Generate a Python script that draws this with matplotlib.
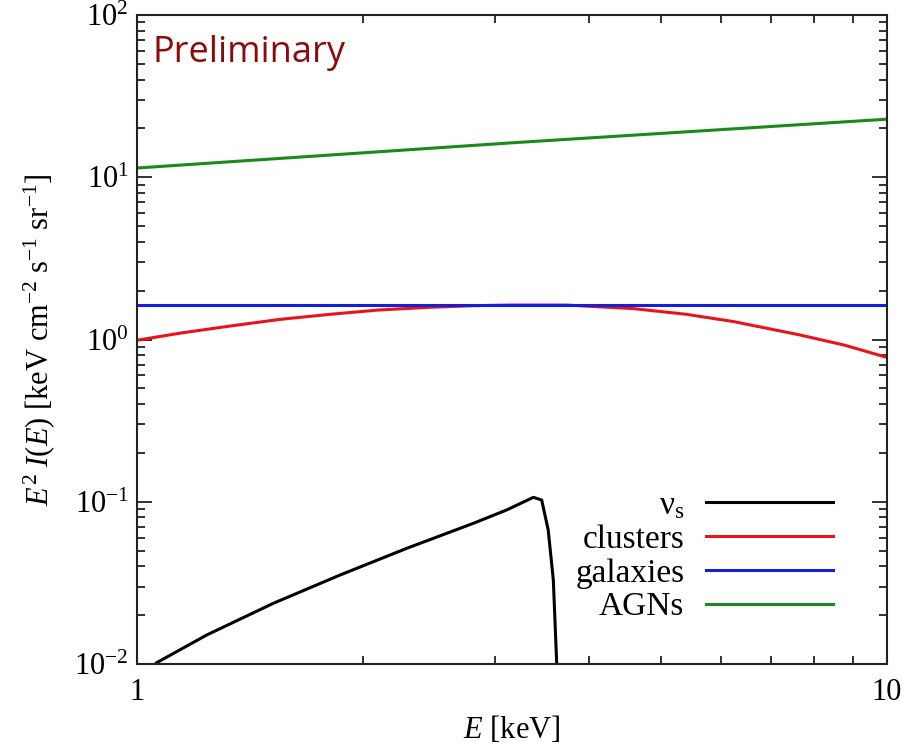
import matplotlib
matplotlib.use("Agg")
import matplotlib.pyplot as plt
from matplotlib.ticker import LogLocator, NullFormatter, LogFormatterSciNotation

# ---- data ----
E_nus = [1.05, 1.0624, 1.2386, 1.5197, 1.8653, 2.2884, 2.8079, 3.111, 3.377, 3.464,
         3.534, 3.590, 3.627, 3.64]
I_nus = [0.0097, 0.01019, 0.01509, 0.02366, 0.03535, 0.0516, 0.0736, 0.0890, 0.1065, 0.1025,
         0.067, 0.033, 0.0102, 0.008]

E_clu = [1.0, 1.15, 1.33, 1.55, 1.81, 2.1, 2.46, 2.8, 3.14, 3.74, 4.59, 5.4, 6.24, 7.66, 8.8, 10.0]
I_clu = [0.99, 1.10, 1.21, 1.33, 1.43, 1.52, 1.58, 1.615, 1.63, 1.63, 1.55, 1.43, 1.29, 1.066, 0.92, 0.775]

E_gal = [1.0, 10.0]
I_gal = [1.64, 1.64]

E_agn = [1.0, 3.16, 10.0]
I_agn = [11.4, 16.3, 22.8]

labels = ["ν$_{\\rm s}$", "clusters", "galaxies", "AGNs"]
colors = ["black", "#e8141a", "#1420d8", "#1a8a1a"]

x_ticks = [1, 10]
x_ticklabels = ["1", "10"]

# ---- style ----
plt.rcParams["font.family"] = ["Liberation Serif", "DejaVu Serif"]
plt.rcParams["mathtext.fontset"] = "custom"
plt.rcParams["mathtext.rm"] = "Liberation Serif"
plt.rcParams["mathtext.it"] = "Liberation Serif:italic"
plt.rcParams["mathtext.bf"] = "Liberation Serif:bold"

fig = plt.figure(figsize=(9.17, 7.49), dpi=100)
ax = fig.add_axes([137/917, 1-664/749, 750/917, 649/749])

series = [(E_nus, I_nus), (E_clu, I_clu), (E_gal, I_gal), (E_agn, I_agn)]
for (xs, ys), lab, col in zip(series, labels, colors):
    ax.plot(xs, ys, color=col, lw=2.2, label=lab, solid_joinstyle="round")

ax.set_xscale("log")
ax.set_yscale("log")
ax.set_xlim(1, 10)
ax.set_ylim(0.01, 100)

ax.set_xticks(x_ticks)
ax.set_xticklabels(x_ticklabels)
ax.xaxis.set_minor_locator(LogLocator(base=10, subs=range(2, 10)))
ax.xaxis.set_minor_formatter(NullFormatter())
ax.yaxis.set_major_locator(LogLocator(base=10, numticks=10))
ax.yaxis.set_major_formatter(LogFormatterSciNotation())
ax.yaxis.set_minor_locator(LogLocator(base=10, subs=range(2, 10), numticks=20))
ax.yaxis.set_minor_formatter(NullFormatter())

ax.tick_params(which="both", direction="in", top=True, right=True, width=1.3, color="#222222")
ax.tick_params(which="major", length=11, labelsize=22)
ax.tick_params(axis="y", which="major", pad=6)
ax.tick_params(axis="x", which="major", pad=10)
ax.tick_params(which="minor", length=6)
for s in ax.spines.values():
    s.set_linewidth(1.5)
    s.set_color("#222222")

ax.set_xlabel(r"$E$ [keV]", fontsize=22, labelpad=5)
ax.set_ylabel(r"$E^2\ I(E)$ [keV cm$^{-2}$ s$^{-1}$ sr$^{-1}$]", fontsize=22)
ax.yaxis.set_label_coords(-0.106, 0.5)

leg = ax.legend(loc="lower right", bbox_to_anchor=(0.928, 0.064), frameon=False,
                markerfirst=False, fontsize=24, handlelength=3.8, handletextpad=0.66,
                labelspacing=0.1, borderpad=0, borderaxespad=0)

ax.text(0.021, 0.9276, "Preliminary", transform=ax.transAxes, fontsize=26,
        color="#8b0a0a", family=["Open Sans", "DejaVu Sans"], va="baseline", ha="left")

fig.savefig("out.png", dpi=100)
